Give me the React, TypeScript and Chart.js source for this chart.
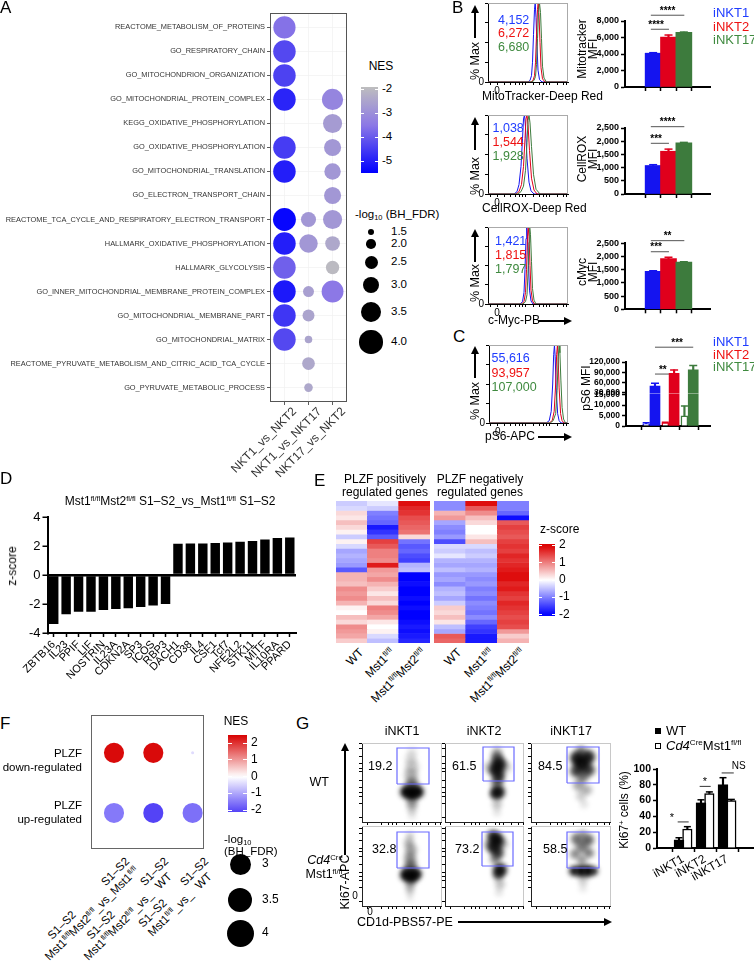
import React, { useEffect, useRef } from 'react';
import { Chart, registerables } from 'chart.js';

Chart.register(...registerables);

const FONT = '"Liberation Sans", Arial, Helvetica, sans-serif';
Chart.defaults.font.family = FONT;
Chart.defaults.font.size = 12;
Chart.defaults.color = '#000';

/* =================== DATA =================== */
// Panel A – GSEA dot plot
const A_PATHWAYS = [
  'REACTOME_METABOLISM_OF_PROTEINS', 'GO_RESPIRATORY_CHAIN', 'GO_MITOCHONDRION_ORGANIZATION',
  'GO_MITOCHONDRIAL_PROTEIN_COMPLEX', 'KEGG_OXIDATIVE_PHOSPHORYLATION', 'GO_OXIDATIVE_PHOSPHORYLATION',
  'GO_MITOCHONDRIAL_TRANSLATION', 'GO_ELECTRON_TRANSPORT_CHAIN',
  'REACTOME_TCA_CYCLE_AND_RESPIRATORY_ELECTRON_TRANSPORT', 'HALLMARK_OXIDATIVE_PHOSPHORYLATION',
  'HALLMARK_GLYCOLYSIS', 'GO_INNER_MITOCHONDRIAL_MEMBRANE_PROTEIN_COMPLEX', 'GO_MITOCHONDRIAL_MEMBRANE_PART',
  'GO_MITOCHONDRIAL_MATRIX', 'REACTOME_PYRUVATE_METABOLISM_AND_CITRIC_ACID_TCA_CYCLE', 'GO_PYRUVATE_METABOLIC_PROCESS',
];
const A_COMPARISONS = ['NKT1_vs_NKT2', 'NKT1_vs_NKT17', 'NKT17_vs_NKT2'];
const A_NES_NKT1_NKT2 = [-3.6, -4.3, -4.4, -4.9, null, -4.5, -5.0, null, -5.4, -5.0, -3.9, -5.1, -4.6, -4.3, null, null];
const A_FDR_NKT1_NKT2 = [3.85, 3.9, 3.9, 3.9, null, 3.9, 3.9, null, 3.95, 3.9, 3.9, 3.9, 3.9, 3.9, null, null];
const A_NES_NKT1_NKT17 = [null, null, null, null, null, null, null, null, -2.8, -2.8, null, -2.6, -2.5, -2.5, -2.4, -2.4];
const A_FDR_NKT1_NKT17 = [null, null, null, null, null, null, null, null, 2.8, 3.3, null, 2.2, 2.35, 1.7, 2.45, 1.85];
const A_NES_NKT17_NKT2 = [null, null, null, -3.2, -2.7, -2.8, -2.8, -2.8, -2.8, -2.4, -2.0, -3.5, null, null, null, null];
const A_FDR_NKT17_NKT2 = [null, null, null, 3.7, 3.4, 3.1, 3.0, 3.1, 3.4, 2.75, 2.55, 3.8, null, null, null, null];
const A_NES_TICKS = [-2, -3, -4, -5];
const A_SIZE_BREAKS = [1.5, 2.0, 2.5, 3.0, 3.5, 4.0];

// Panel B / C – flow MFI
const B_GROUPS = ['iNKT1', 'iNKT2', 'iNKT17'];
const B_COLORS = ['#1414f0', '#e0001c', '#3d7b3d'];
const B_TEXT_COLORS = ['#1f3cff', '#ee1111', '#3f8a3f'];
const B_MITO_MEAN = [4100, 6050, 6620];
const B_MITO_SEM = [60, 250, 40];
const B_CELLROX_MEAN = [1080, 1620, 1940];
const B_CELLROX_SEM = [30, 80, 15];
const B_CMYC_MEAN = [1440, 1920, 1790];
const B_CMYC_SEM = [20, 50, 10];
const B_MITO_MFI = ['4,152', '6,272', '6,680'];
const B_CELLROX_MFI = ['1,038', '1,544', '1,928'];
const B_CMYC_MFI = ['1,421', '1,815', '1,797'];
const B_MITO_TICKS = [0, 2000, 4000, 6000, 8000];
const B_SMALL_TICKS = [0, 500, 1000, 1500, 2000, 2500];
const B_MITO_SIG: [number, number, number, string][] = [[1, 3, 8700, '****'], [1, 2, 7000, '****']];
const B_CELLROX_SIG: [number, number, number, string][] = [[1, 3, 2550, '****'], [1, 2, 1920, '***']];
const B_CMYC_SIG: [number, number, number, string][] = [[1, 3, 2600, '**'], [1, 2, 2180, '***']];

const C_CTRL_MEAN = [1000, 1500, 4800];
const C_CTRL_SEM = [500, 300, 4700];
const C_PS6_MEAN = [50000, 87000, 97000];
const C_PS6_SEM = [8000, 10000, 13000];
const C_PS6_MFI = ['55,616', '93,957', '107,000'];
const C_UPPER_TICKS = [30000, 60000, 90000, 120000];
const C_LOWER_TICKS = [0, 5000, 10000, 15000];
const C_SIG: [number, number, number, string][] = [[1, 3, 163000, '***'], [1, 2, 85000, '**']];

// histograms (x = channel position, y = % of max)
const H_MITO_BLUE_X = [0, 40, 42, 43.5, 44.5, 45.5, 46.5, 47.2, 48, 49, 50, 51.5, 54, 80];
const H_MITO_BLUE_Y = [0, 0, 2, 8, 25, 60, 92, 100, 82, 45, 15, 3, 0, 0];
const H_MITO_RED_X = [0, 43, 45, 46.5, 47.5, 48.5, 49.5, 50.2, 51, 52, 53, 54.5, 57, 80];
const H_MITO_RED_Y = [0, 0, 2, 8, 25, 60, 92, 100, 85, 50, 18, 4, 0, 0];
const H_MITO_GREEN_X = [0, 44, 46, 47.5, 48.5, 49.5, 50.5, 51.5, 52.5, 53.5, 54.5, 56, 58.5, 80];
const H_MITO_GREEN_Y = [0, 0, 2, 7, 22, 55, 88, 100, 88, 55, 20, 5, 0, 0];
const H_ROX_BLUE_X = [0, 26, 29, 31, 33, 34.5, 35.5, 36.5, 37.5, 39, 41, 43, 46, 80];
const H_ROX_BLUE_Y = [0, 0, 3, 12, 35, 70, 95, 100, 85, 45, 15, 4, 0, 0];
const H_ROX_RED_X = [0, 28, 31, 33.5, 35.5, 37, 38, 39, 40, 41.5, 43.5, 46, 49, 80];
const H_ROX_RED_Y = [0, 0, 3, 12, 35, 70, 95, 100, 88, 55, 20, 5, 0, 0];
const H_ROX_GREEN_X = [0, 30, 33, 35.5, 37.5, 39, 40, 41, 42, 43.5, 45.5, 48, 52, 80];
const H_ROX_GREEN_Y = [0, 0, 3, 10, 30, 65, 93, 100, 90, 60, 25, 6, 0, 0];
const H_MYC_BLUE_X = [0, 32, 34.5, 36, 37, 38, 38.7, 39.5, 40.5, 41.5, 43, 45, 80];
const H_MYC_BLUE_Y = [0, 0, 3, 15, 45, 85, 100, 88, 50, 18, 4, 0, 0];
const H_MYC_RED_X = [0, 33.5, 36, 37.5, 38.5, 39.5, 40.2, 41, 42, 43, 44.5, 46.5, 80];
const H_MYC_RED_Y = [0, 0, 3, 15, 45, 85, 100, 88, 50, 18, 4, 0, 0];
const H_MYC_GREEN_X = [0, 35, 37.5, 39, 40, 41, 41.7, 42.5, 43.5, 44.5, 46, 48, 80];
const H_MYC_GREEN_Y = [0, 0, 3, 12, 40, 80, 100, 90, 55, 20, 5, 0, 0];
const H_PS6_BLUE_X = [0, 58, 61, 63, 64.5, 65.5, 66.3, 67, 68, 69.5, 71, 73, 80];
const H_PS6_BLUE_Y = [0, 0, 3, 15, 50, 88, 100, 85, 45, 12, 3, 0, 0];
const H_PS6_RED_X = [0, 61, 64, 66, 67.5, 68.5, 69.3, 70, 71, 72.5, 74, 76, 80];
const H_PS6_RED_Y = [0, 0, 3, 15, 50, 88, 100, 85, 45, 12, 3, 0, 0];
const H_PS6_GREEN_X = [0, 62, 65, 67.5, 69, 70, 71, 71.8, 72.8, 74, 75.5, 77.5, 80];
const H_PS6_GREEN_Y = [0, 0, 3, 12, 42, 82, 100, 90, 55, 20, 5, 0, 0];
const HIST_TICKS = [2, 9, 16, 22, 27, 31, 34, 37, 45, 51, 55, 58, 61, 69, 75, 78];

// Panel D – z-scores
const D_GENES = ['ZBTB16', 'IL23', 'PPIF', 'LIF', 'NOSTRIN', 'IL23A', 'CDKN2A', 'SP3', 'ICOS', 'RBP3',
  'DACH1', 'CD38', 'IL4', 'CSF1', 'Tcf7', 'NFE2L2', 'STK11', 'MITF', 'IL10RA', 'PPARD'];
const D_ZSCORE = [-3.38, -2.71, -2.53, -2.53, -2.41, -2.35, -2.3, -2.21, -2.1, -2.0,
  2.15, 2.17, 2.18, 2.2, 2.25, 2.3, 2.35, 2.45, 2.55, 2.58];
const D_TICKS = [-4, -2, 0, 2, 4];

// Panel E – heatmap z-scores (rows top to bottom)
const E_SAMPLES = ['WT', 'Mst1', 'Mst1Mst2'];
const E_POS_WT = [-0.4, -0.3, 0.3, 0.2, 0.5, 0.3, 0.1, -0.4, 0.1, -0.3, -0.7, -0.6, -0.7, -0.8, -1.3, 0.6, 0.6, 0.5, 0.9, 0.8, 0.9, 0.6, 0.1, 0.0, 0.5, 0.3, 0.9, 0.8, 0.7, 0.4];
const E_POS_MST1 = [-0.2, -0.4, -1.0, -1.1, -1.2, -1.8, -1.6, -1.3, 1.5, 1.3, 1.0, 1.0, 0.9, 1.8, 0.8, 0.7, 0.9, 0.6, 0.4, 0.2, 0.5, 0.3, 1.0, 0.9, 0.7, 0.2, 0.0, 0.1, -0.3, -0.5];
const E_POS_MST12 = [1.9, 1.7, 1.6, 1.4, 1.3, 1.2, 1.1, 0.3, -1.1, -1.3, -1.2, -1.4, -1.5, -0.6, -0.5, -2.0, -2.0, -1.9, -2.0, -2.0, -1.9, -2.0, -1.9, -2.0, -2.0, -1.9, -1.8, -1.9, -1.8, -1.7];
const E_NEG_WT = [-0.9, -0.9, 0.6, 0.8, -0.7, -0.9, -1.0, -0.8, -1.4, -0.3, -0.4, -0.2, -0.6, -0.7, -0.5, -0.8, -0.7, -0.9, -0.6, -0.5, -0.7, -0.4, 0.4, 0.3, 0.5, 0.2, -0.5, -0.7, 1.3, 1.2];
const E_NEG_MST1 = [1.9, 1.3, 0.9, 0.5, 0.3, 0.0, 0.0, 0.2, 0.5, -0.3, -0.5, -0.4, -0.6, -0.7, -0.6, -0.8, -0.9, -0.8, -1.0, -0.9, -1.1, -0.9, -1.0, -1.1, -0.9, -1.2, -1.5, -1.6, -1.8, -1.8];
const E_NEG_MST12 = [-1.0, -1.0, -1.2, -1.9, 1.3, 1.5, 1.4, 1.3, 1.5, 1.6, 1.5, 1.7, 1.6, 1.7, 1.8, 1.9, 1.9, 1.7, 1.8, 1.6, 1.5, 1.7, 1.6, 1.5, 1.4, 1.5, 1.4, 0.8, 0.4, 0.6];
const E_TICKS = [2, 1, 0, -1, -2];

// Panel F – GSEA of PLZF gene sets
const F_NES_DOWN = [2.4, 2.4, -0.4];
const F_FDR_DOWN = [2.85, 2.85, 0.0];
const F_NES_UP = [-1.5, -2.1, -1.6];
const F_FDR_UP = [2.85, 2.85, 2.85];
const F_NES_TICKS = [2, 1, 0, -1, -2];
const F_SIZE_BREAKS = [3, 3.5, 4];

// Panel G – Ki67
const G_GROUPS = ['iNKT1', 'iNKT2', 'iNKT17'];
const G_WT_MEAN = [10, 57, 80];
const G_WT_SEM = [3, 4, 9];
const G_KO_MEAN = [24, 69, 60];
const G_KO_SEM = [3, 2, 1.5];
const G_WT_GATE_PCT = ['19.2', '61.5', '84.5'];
const G_KO_GATE_PCT = ['32.8', '73.2', '58.5'];
const G_SIG: [number, number, number, string][] = [[0.75, 1.25, 33, '*'], [1.75, 2.25, 78, '*'], [2.75, 3.3, 95, 'NS']];
// density clouds [x, y, radius, density]
const G_WT1_CLOUD = [[44, 30, 6, .9], [50, 29, 7, .95], [56, 30, 6, .9], [50, 33, 8, .5], [50, 40, 6, .35], [49, 47, 7, .25], [50, 55, 7, .2], [49, 63, 6, .15], [50, 70, 5, .1], [50, 21, 6, .4], [50, 14, 5, .25], [50, 7, 4, .12]];
const G_WT2_CLOUD = [[52, 64, 6, .6], [54, 58, 7, .85], [51, 52, 7, .85], [54, 46, 6, .75], [52, 40, 6, .55], [53, 30, 7, .9], [50, 28, 5, .6], [45, 55, 6, .25], [60, 55, 6, .25], [52, 70, 5, .3], [52, 18, 5, .25], [52, 10, 4, .12]];
const G_WT17_CLOUD = [[46, 64, 7, .85], [57, 65, 7, .85], [51, 58, 8, .9], [45, 51, 6, .7], [58, 52, 6, .7], [52, 46, 6, .55], [50, 71, 5, .5], [48, 37, 6, .35], [56, 32, 5, .3], [50, 26, 5, .2], [53, 18, 4, .12]];
const G_KO1_CLOUD = [[44, 31, 6, .9], [50, 30, 7, .95], [55, 32, 5, .8], [48, 34, 8, .45], [49, 41, 6, .45], [48, 48, 6, .4], [49, 56, 6, .35], [47, 63, 5, .3], [48, 70, 4, .2], [48, 22, 5, .4], [48, 15, 4, .25], [48, 8, 3, .12]];
const G_KO2_CLOUD = [[48, 70, 6, .75], [52, 66, 7, .9], [49, 59, 7, .85], [53, 53, 6, .7], [50, 47, 5, .45], [55, 36, 7, .9], [53, 31, 5, .6], [44, 62, 5, .3], [58, 62, 5, .3], [55, 22, 5, .25], [54, 14, 4, .12]];
const G_KO17_CLOUD = [[43, 35, 5, .9], [50, 35, 6, .95], [57, 35, 6, .95], [63, 35, 4, .8], [46, 67, 6, .55], [57, 66, 6, .6], [51, 59, 6, .5], [44, 52, 5, .45], [58, 53, 5, .5], [51, 46, 5, .4], [52, 72, 4, .35], [52, 26, 5, .2], [52, 18, 4, .1]];
// gates [x0, x1, y0, y1]
const G_WT1_GATE = [35, 67, 38, 74];
const G_WT2_GATE = [38, 69, 41, 75];
const G_WT17_GATE = [36, 68, 39, 75];
const G_KO1_GATE = [35, 67, 38, 74];
const G_KO2_GATE = [37, 68, 40, 74];
const G_KO17_GATE = [36, 68, 38, 74];
const G_DENS_TICKS = [5, 19, 26, 30, 34, 42, 50, 54, 58, 66, 73, 78];

/* =================== HELPERS =================== */
type Rect = { l: number; t: number; r: number; b: number };
const rgb = (c: number[]) => `rgb(${c[0]},${c[1]},${c[2]})`;
function gradientColor(stops: [number, number[]][], v: number) {
  if (v <= stops[0][0]) return rgb(stops[0][1]);
  for (let i = 1; i < stops.length; i++) {
    if (v <= stops[i][0]) {
      const t = (v - stops[i - 1][0]) / (stops[i][0] - stops[i - 1][0]);
      const a = stops[i - 1][1], b = stops[i][1];
      return rgb(a.map((x, k) => Math.round(x + (b[k] - x) * t)));
    }
  }
  return rgb(stops[stops.length - 1][1]);
}
function gradCss(stops: [number, number[]][], top: number, bottom: number) {
  const parts: string[] = [];
  for (let i = 0; i <= 20; i++) {
    const v = top + (bottom - top) * (i / 20);
    parts.push(`${gradientColor(stops, v)} ${i * 5}%`);
  }
  return `linear-gradient(to bottom, ${parts.join(', ')})`;
}
const A_STOPS: [number, number[]][] = [[-5.5, [0, 0, 255]], [-3.5, [140, 120, 230]], [-1.9, [190, 190, 190]]];
const E_STOPS: [number, number[]][] = [[-2, [0, 0, 255]], [0, [255, 255, 255]], [2, [220, 0, 0]]];
const F_STOPS: [number, number[]][] = [[-2.4, [60, 40, 245]], [0, [255, 255, 255]], [2.5, [215, 0, 0]]];
const aRadius = (v: number) => 3.4 * v - 2;
const fRadius = (v: number) => 1.5 + 3 * v;

const fixAxis = (size: number) => (s: any) => {
  if (s.isHorizontal()) s.height = size; else s.width = size;
  s.paddingLeft = 0; s.paddingRight = 0; s.paddingTop = 0; s.paddingBottom = 0;
};
const setTicks = (vals: number[]) => (s: any) => { s.ticks = vals.map((v) => ({ value: v })); };

function baseOptions(canvas: Rect, plot: Rect, hidden = false) {
  return {
    responsive: false,
    maintainAspectRatio: false,
    animation: false,
    devicePixelRatio: 1,
    events: [],
    layout: {
      autoPadding: false,
      padding: hidden
        ? { left: plot.l - canvas.l, top: plot.t - canvas.t, right: canvas.r - plot.r, bottom: canvas.b - plot.b }
        : { left: 0, top: plot.t - canvas.t, right: canvas.r - plot.r, bottom: 0 },
    },
    plugins: { legend: { display: false }, tooltip: { enabled: false }, title: { display: false } },
  };
}
function framePlugin(color: string, sides: string, width = 1) {
  return {
    id: 'frame',
    afterDatasetsDraw(chart: any) {
      const { ctx, chartArea: a } = chart;
      const h = width / 2;
      ctx.save();
      ctx.strokeStyle = color;
      ctx.lineWidth = width;
      ctx.beginPath();
      if (sides.includes('t')) { ctx.moveTo(a.left, a.top + h); ctx.lineTo(a.right, a.top + h); }
      if (sides.includes('b')) { ctx.moveTo(a.left, a.bottom - h); ctx.lineTo(a.right, a.bottom - h); }
      if (sides.includes('l')) { ctx.moveTo(a.left + h, a.top); ctx.lineTo(a.left + h, a.bottom); }
      if (sides.includes('r')) { ctx.moveTo(a.right - h, a.top); ctx.lineTo(a.right - h, a.bottom); }
      ctx.stroke();
      ctx.restore();
    },
  };
}
function blurPlugin(px: number, index: number) {
  return {
    id: 'blur',
    beforeDatasetDraw(chart: any, args: any) { if (args.index === index) { chart.ctx.save(); chart.ctx.filter = `blur(${px}px)`; } },
    afterDatasetDraw(chart: any, args: any) { if (args.index === index) chart.ctx.restore(); },
  };
}
const tickGrid = (len = 4, w = 1.5) => ({ drawOnChartArea: false, drawTicks: true, tickLength: len, tickWidth: w, tickColor: '#000' });

function ChartBox({ canvas, make }: { canvas: Rect; make: () => any }) {
  const ref = useRef<HTMLCanvasElement | null>(null);
  useEffect(() => {
    if (!ref.current) return;
    const chart = new Chart(ref.current, make());
    return () => chart.destroy();
  }, []);
  const w = canvas.r - canvas.l, h = canvas.b - canvas.t;
  return <canvas ref={ref} width={w} height={h} style={{ position: 'absolute', left: canvas.l, top: canvas.t, width: w, height: h }} />;
}

type TP = { x: number; y: number; s?: number; c?: string; a?: 'l' | 'c' | 'r'; rot?: number; w?: any; it?: boolean; lh?: number; children: React.ReactNode };
function Txt({ x, y, s = 12, c = '#000', a = 'l', rot = 0, w = 400, it = false, lh = 1.15, children }: TP) {
  const tx = a === 'l' ? '0%' : a === 'c' ? '-50%' : '-100%';
  return (
    <div style={{
      position: 'absolute', left: x, top: y, transform: `translate(${tx},-50%)${rot ? ` rotate(${rot}deg)` : ''}`,
      fontSize: s, color: c, fontWeight: w, fontStyle: it ? 'italic' : 'normal', whiteSpace: 'nowrap', lineHeight: lh,
      textAlign: a === 'l' ? 'left' : a === 'c' ? 'center' : 'right',
    }}>{children}</div>
  );
}
const Sup = ({ children }: { children: React.ReactNode }) => <span style={{ fontSize: '0.62em', verticalAlign: '0.55em', lineHeight: 0 }}>{children}</span>;
const Sub = ({ children }: { children: React.ReactNode }) => <span style={{ fontSize: '0.65em', verticalAlign: '-0.25em', lineHeight: 0 }}>{children}</span>;
const FL = () => <Sup>fl/fl</Sup>;

function RotLabel({ x, y, s = 12, deg = 45, c = '#000', children }: { x: number; y: number; s?: number; deg?: number; c?: string; children: React.ReactNode }) {
  return (
    <div style={{ position: 'absolute', left: x, top: y, transform: `translate(-100%,0) rotate(-${deg}deg)`, transformOrigin: '100% 0', fontSize: s, color: c, whiteSpace: 'nowrap', lineHeight: 1.1, textAlign: 'right' }}>{children}</div>
  );
}
function VArrow({ x, y1, y2 }: { x: number; y1: number; y2: number }) {
  return (
    <>
      <div style={{ position: 'absolute', left: x - 0.75, top: y1 + 6, width: 1.5, height: y2 - y1 - 6, background: '#000' }} />
      <div style={{ position: 'absolute', left: x - 4, top: y1, width: 0, height: 0, borderLeft: '4px solid transparent', borderRight: '4px solid transparent', borderBottom: '8px solid #000' }} />
    </>
  );
}
function HArrow({ y, x1, x2 }: { y: number; x1: number; x2: number }) {
  return (
    <>
      <div style={{ position: 'absolute', left: x1, top: y - 0.75, width: x2 - x1 - 6, height: 1.5, background: '#000' }} />
      <div style={{ position: 'absolute', left: x2 - 8, top: y - 4, width: 0, height: 0, borderTop: '4px solid transparent', borderBottom: '4px solid transparent', borderLeft: '8px solid #000' }} />
    </>
  );
}

/* =================== PANEL A =================== */
const A_CANVAS: Rect = { l: 0, t: 0, r: 352, b: 485 };
const A_PLOT: Rect = { l: 270, t: 13, r: 347, b: 402 };
const A_XMIN = 0.4, A_XMAX = 3.6, A_YMIN = 0.4, A_YMAX = 16.6;
function configA() {
  const cols: any[] = [[A_NES_NKT1_NKT2, A_FDR_NKT1_NKT2], [A_NES_NKT1_NKT17, A_FDR_NKT1_NKT17], [A_NES_NKT17_NKT2, A_FDR_NKT17_NKT2]];
  const datasets = cols.map(([nes, fdr]: any[], ci: number) => {
    const data: any[] = [];
    const bg: string[] = [];
    nes.forEach((v: any, ri: number) => {
      if (v != null) { data.push({ x: ci + 1, y: ri + 1, r: aRadius(fdr[ri]) }); bg.push(gradientColor(A_STOPS, v)); }
    });
    return { data, backgroundColor: bg, borderWidth: 0 };
  });
  const grid = { color: '#f0f0f0', lineWidth: 0.7, tickLength: 3, tickColor: '#333', tickWidth: 0.8 };
  return {
    type: 'bubble',
    data: { datasets },
    options: {
      ...baseOptions(A_CANVAS, A_PLOT),
      scales: {
        x: {
          type: 'linear', min: A_XMIN, max: A_XMAX, afterBuildTicks: setTicks([1, 2, 3]), afterFit: fixAxis(A_CANVAS.b - A_PLOT.b), grid, border: { display: false },
          ticks: { display: false },
        },
        y: {
          type: 'linear', reverse: true, min: A_YMIN, max: A_YMAX, afterBuildTicks: setTicks(A_PATHWAYS.map((_, i) => i + 1)), afterFit: fixAxis(A_PLOT.l - A_CANVAS.l), grid, border: { display: false },
          ticks: { display: false },
        },
      },
    },
    plugins: [framePlugin('#555', 'tblr', 1)],
  };
}

/* =================== PANEL B =================== */
const B_XMIN = 0.09, B_XMAX = 3.78;
function configBar3(canvas: Rect, plot: Rect, mean: number[], sem: number[], ticks: number[], sig: [number, number, number, string][]) {
  const xs = B_GROUPS.map((_, i) => i + 1);
  return {
    type: 'bar',
    data: {
      datasets: [
        { type: 'bar', data: xs.map((x, i) => ({ x, y: mean[i] })), backgroundColor: B_COLORS, barThickness: 16, grouped: false, borderWidth: 0 },
        { type: 'bar', data: xs.map((x, i) => ({ x, y: [mean[i], mean[i] + sem[i]] })), backgroundColor: B_COLORS, barThickness: 1.5, grouped: false, borderWidth: 0 },
        { type: 'scatter', data: xs.map((x, i) => ({ x, y: mean[i] + sem[i] })), pointStyle: 'line', pointRadius: 4, pointBorderColor: B_COLORS, pointBorderWidth: 1.5 },
        ...sig.map((s) => ({ type: 'line', data: [{ x: s[0] - 0.15, y: s[2] }, { x: s[1] + 0.03, y: s[2] }], borderColor: '#555', borderWidth: 1, pointRadius: 0, clip: false })),
      ],
    },
    options: {
      ...baseOptions(canvas, plot),
      scales: {
        x: { type: 'linear', min: B_XMIN, max: B_XMAX, afterBuildTicks: setTicks(xs), afterFit: fixAxis(canvas.b - plot.b), ticks: { display: false }, grid: tickGrid(4, 1.5), border: { color: '#000', width: 2 } },
        y: {
          type: 'linear', min: 0, max: ticks[ticks.length - 1], afterBuildTicks: setTicks(ticks), afterFit: fixAxis(plot.l - canvas.l),
          ticks: { autoSkip: false, padding: 2, font: { size: 9, weight: 'bold' }, color: '#000' }, grid: tickGrid(4, 1.5), border: { color: '#000', width: 2 },
        },
      },
    },
  };
}
function sigTexts(plot: Rect, xmin: number, xmax: number, ymax: number, sig: [number, number, number, string][], off = [-0.15, 0.03]) {
  return sig.map((s, i) => {
    const cx = plot.l + (((s[0] + off[0] + s[1] + off[1]) / 2 - xmin) / (xmax - xmin)) * (plot.r - plot.l);
    const cy = plot.b - (s[2] / ymax) * (plot.b - plot.t);
    return <Txt key={i} x={cx} y={cy - 4.5} a="c" s={10} w="bold">{s[3]}</Txt>;
  });
}

function configHist(canvas: Rect, plot: Rect, curves: [number[], number[], string][]) {
  return {
    type: 'line',
    data: {
      datasets: curves.map(([xs, ys, col]) => ({ data: xs.map((x, i) => ({ x, y: ys[i] })), borderColor: col, borderWidth: 1, pointRadius: 0, tension: 0, fill: false })),
    },
    options: {
      ...baseOptions(canvas, plot),
      scales: {
        x: {
          type: 'linear', min: 0, max: 80, afterBuildTicks: setTicks(HIST_TICKS), afterFit: fixAxis(canvas.b - plot.b),
          ticks: { autoSkip: false, maxRotation: 0, padding: 0, font: { size: 10 }, callback: (v: number) => (v === 9 ? '0' : '') }, grid: tickGrid(3, 1), border: { color: '#000', width: 1 },
        },
        y: {
          type: 'linear', min: 0, max: 100, afterBuildTicks: setTicks([0, 25, 50, 75, 100]), afterFit: fixAxis(plot.l - canvas.l),
          ticks: { autoSkip: false, padding: 1, font: { size: 10 }, callback: (v: number) => (v === 0 ? '0' : '') }, grid: tickGrid(3, 1), border: { color: '#000', width: 1 },
        },
      },
    },
    plugins: [framePlugin('#aaa', 'tr', 1)],
  };
}
const HB1_CANVAS: Rect = { l: 470, t: 0, r: 572, b: 95 }, HB1_PLOT: Rect = { l: 488, t: 3, r: 568, b: 82 };
const HB2_CANVAS: Rect = { l: 470, t: 110, r: 572, b: 207 }, HB2_PLOT: Rect = { l: 488, t: 115, r: 568, b: 194 };
const HB3_CANVAS: Rect = { l: 470, t: 222, r: 572, b: 317 }, HB3_PLOT: Rect = { l: 488, t: 227, r: 568, b: 304 };
const HC_CANVAS: Rect = { l: 470, t: 340, r: 572, b: 436 }, HC_PLOT: Rect = { l: 489, t: 345, r: 568, b: 423 };
const BB1_CANVAS: Rect = { l: 560, t: 0, r: 712, b: 100 }, BB1_PLOT: Rect = { l: 625, t: 21, r: 710, b: 87 };
const BB2_CANVAS: Rect = { l: 560, t: 100, r: 712, b: 205 }, BB2_PLOT: Rect = { l: 625, t: 128, r: 710, b: 194 };
const BB3_CANVAS: Rect = { l: 560, t: 215, r: 712, b: 320 }, BB3_PLOT: Rect = { l: 625, t: 243.3, r: 710, b: 309.3 };

/* =================== PANEL C bar (broken axis) =================== */
const C_CANVAS: Rect = { l: 565, t: 335, r: 712, b: 440 };
const C_PLOT: Rect = { l: 626, t: 362, r: 710, b: 426 };
const C_XMIN = 0.446, C_XMAX = 3.375;
const C_UP_MIN = 28500, C_UP_MAX = 120000, C_LO_MAX = 15500;
function configC() {
  const g = [1, 2, 3];
  const ox = g.map((v) => v - 0.23), fx = g.map((v) => v + 0.23);
  const yTicks = { autoSkip: false, padding: 2, font: { size: 8.5, weight: 'bold' }, color: '#000' };
  return {
    type: 'bar',
    data: {
      datasets: [
        { type: 'bar', yAxisID: 'yL', data: ox.map((x, i) => ({ x, y: C_CTRL_MEAN[i] })), backgroundColor: '#fff', borderColor: B_COLORS, borderWidth: 1.5, barThickness: 7, grouped: false },
        { type: 'bar', yAxisID: 'yL', data: fx.map((x, i) => ({ x, y: Math.min(C_PS6_MEAN[i], C_LO_MAX) })), backgroundColor: B_COLORS, barThickness: 10, grouped: false, borderWidth: 0 },
        { type: 'bar', yAxisID: 'yU', data: fx.map((x, i) => ({ x, y: [C_UP_MIN, C_PS6_MEAN[i]] })), backgroundColor: B_COLORS, barThickness: 10, grouped: false, borderWidth: 0 },
        { type: 'bar', yAxisID: 'yL', data: ox.map((x, i) => ({ x, y: [C_CTRL_MEAN[i], C_CTRL_MEAN[i] + C_CTRL_SEM[i]] })), backgroundColor: B_COLORS, barThickness: 1.5, grouped: false, borderWidth: 0 },
        { type: 'bar', yAxisID: 'yU', data: fx.map((x, i) => ({ x, y: [C_PS6_MEAN[i], C_PS6_MEAN[i] + C_PS6_SEM[i]] })), backgroundColor: B_COLORS, barThickness: 1.5, grouped: false, borderWidth: 0 },
        { type: 'scatter', yAxisID: 'yL', data: ox.map((x, i) => ({ x, y: C_CTRL_MEAN[i] + C_CTRL_SEM[i] })), pointStyle: 'line', pointRadius: 3.5, pointBorderColor: B_COLORS, pointBorderWidth: 1.5 },
        { type: 'scatter', yAxisID: 'yU', data: fx.map((x, i) => ({ x, y: C_PS6_MEAN[i] + C_PS6_SEM[i] })), pointStyle: 'line', pointRadius: 4, pointBorderColor: B_COLORS, pointBorderWidth: 1.5 },
        ...C_SIG.map((s) => ({ type: 'line', yAxisID: 'yU', data: [{ x: s[0] + 0.23, y: s[2] }, { x: s[1] + 0.23, y: s[2] }], borderColor: '#555', borderWidth: 1, pointRadius: 0, clip: false })),
      ],
    },
    options: {
      ...baseOptions(C_CANVAS, C_PLOT),
      scales: {
        x: { type: 'linear', min: C_XMIN, max: C_XMAX, afterBuildTicks: setTicks(g), afterFit: fixAxis(C_CANVAS.b - C_PLOT.b), ticks: { display: false }, grid: tickGrid(4, 1.5), border: { color: '#000', width: 2 } },
        yU: {
          type: 'linear', position: 'left', stack: 'ps6', stackWeight: 31.5, weight: 2, min: C_UP_MIN, max: C_UP_MAX, afterBuildTicks: setTicks(C_UPPER_TICKS), afterFit: fixAxis(C_PLOT.l - C_CANVAS.l),
          ticks: yTicks, grid: tickGrid(4, 1.5), border: { color: '#000', width: 2 },
        },
        yL: {
          type: 'linear', position: 'left', stack: 'ps6', stackWeight: 32.5, weight: 1, min: 0, max: C_LO_MAX, afterBuildTicks: setTicks(C_LOWER_TICKS), afterFit: fixAxis(C_PLOT.l - C_CANVAS.l),
          ticks: yTicks, grid: tickGrid(4, 1.5), border: { color: '#000', width: 2 },
        },
      },
    },
  };
}

/* =================== PANEL D =================== */
const D_CANVAS: Rect = { l: 0, t: 505, r: 300, b: 712 };
const D_PLOT: Rect = { l: 47.5, t: 517, r: 296, b: 633 };
function configD() {
  return {
    type: 'bar',
    data: { labels: D_GENES, datasets: [{ data: D_ZSCORE, backgroundColor: '#000', barPercentage: 0.76, categoryPercentage: 1, borderWidth: 0 }] },
    options: {
      ...baseOptions(D_CANVAS, D_PLOT),
      scales: {
        x: {
          type: 'category', offset: true, afterFit: fixAxis(D_CANVAS.b - D_PLOT.b),
          ticks: { autoSkip: false, minRotation: 45, maxRotation: 45, padding: 1, font: { size: 11 }, color: '#000' },
          grid: { ...tickGrid(4, 1.5), offset: false }, border: { color: '#000', width: 2 },
        },
        y: {
          type: 'linear', min: -4, max: 4, afterBuildTicks: setTicks(D_TICKS), afterFit: fixAxis(D_PLOT.l - D_CANVAS.l),
          ticks: { padding: 2, font: { size: 13 }, color: '#000' },
          grid: { drawOnChartArea: true, color: (c: any) => (c.tick && c.tick.value === 0 ? '#000' : 'rgba(0,0,0,0)'), lineWidth: 2.5, tickLength: 5, tickColor: '#000', tickWidth: 1.5 },
          border: { color: '#000', width: 2 },
        },
      },
    },
  };
}

/* =================== PANEL E =================== */
const E_LEFT_CANVAS: Rect = { l: 336, t: 501, r: 430, b: 643 };
const E_RIGHT_CANVAS: Rect = { l: 434, t: 501, r: 529, b: 643 };
function configHeat(canvas: Rect, cols: number[][]) {
  const n = cols[0].length;
  const datasets = cols[0].map((_, ri) => ({
    data: cols.map(() => 1),
    backgroundColor: cols.map((col) => gradientColor(E_STOPS, col[ri])),
    borderWidth: 0, barPercentage: 1, categoryPercentage: 1,
  }));
  return {
    type: 'bar',
    data: { labels: E_SAMPLES, datasets },
    options: {
      ...baseOptions(canvas, canvas, true),
      scales: {
        x: { type: 'category', stacked: true, display: false },
        y: { type: 'linear', stacked: true, min: 0, max: n, reverse: true, display: false },
      },
    },
  };
}

/* =================== PANEL F =================== */
const F_CANVAS: Rect = { l: 86, t: 710, r: 209, b: 854 };
const F_PLOT: Rect = { l: 91, t: 715, r: 204, b: 849 };
function configF() {
  const rows: [number[], number[]][] = [[F_NES_DOWN, F_FDR_DOWN], [F_NES_UP, F_FDR_UP]];
  return {
    type: 'bubble',
    data: {
      datasets: rows.map(([nes, fdr], ri) => ({
        data: nes.map((_, ci) => ({ x: ci + 1, y: ri + 1, r: fRadius(fdr[ci]) })),
        backgroundColor: nes.map((v) => gradientColor(F_STOPS, v)), borderWidth: 0,
      })),
    },
    options: {
      ...baseOptions(F_CANVAS, F_PLOT, true),
      scales: {
        x: { type: 'linear', min: 0.415, max: 3.29, display: false },
        y: { type: 'linear', min: 0.37, max: 2.6, reverse: true, display: false },
      },
    },
    plugins: [framePlugin('#666', 'tblr', 1)],
  };
}

/* =================== PANEL G =================== */
const G_PLOTS: Rect[] = [
  { l: 362, t: 743, r: 442, b: 822 }, { l: 445, t: 743, r: 524, b: 822 }, { l: 531, t: 743, r: 611, b: 822 },
  { l: 362, t: 826, r: 442, b: 906 }, { l: 445, t: 826, r: 524, b: 906 }, { l: 531, t: 826, r: 611, b: 906 },
];
const G_CLOUDS = [G_WT1_CLOUD, G_WT2_CLOUD, G_WT17_CLOUD, G_KO1_CLOUD, G_KO2_CLOUD, G_KO17_CLOUD];
const G_GATES = [G_WT1_GATE, G_WT2_GATE, G_WT17_GATE, G_KO1_GATE, G_KO2_GATE, G_KO17_GATE];
const gCanvas = (p: Rect): Rect => ({ l: p.l - 4, t: p.t, r: p.r, b: p.b + 4 });
function configDensity(i: number) {
  const p = G_PLOTS[i], c = gCanvas(p);
  const cloud = G_CLOUDS[i], gate = G_GATES[i];
  return {
    type: 'bubble',
    data: {
      datasets: [
        {
          type: 'scatter', showLine: true, borderColor: '#6b6bff', borderWidth: 1.2, pointRadius: 0, fill: false,
          data: [{ x: gate[0], y: gate[2] }, { x: gate[1], y: gate[2] }, { x: gate[1], y: gate[3] }, { x: gate[0], y: gate[3] }, { x: gate[0], y: gate[2] }],
        },
        { data: cloud.map((b) => ({ x: b[0], y: b[1], r: b[2] })), backgroundColor: cloud.map((b) => `rgba(0,0,0,${b[3]})`), borderWidth: 0 },
      ],
    },
    options: {
      ...baseOptions(c, p),
      scales: {
        x: { type: 'linear', min: 0, max: p.r - p.l, afterBuildTicks: setTicks(G_DENS_TICKS), afterFit: fixAxis(4), ticks: { display: false }, grid: tickGrid(3, 1), border: { color: '#222', width: 1 } },
        y: { type: 'linear', min: 0, max: p.b - p.t, afterBuildTicks: setTicks(G_DENS_TICKS), afterFit: fixAxis(4), ticks: { display: false }, grid: tickGrid(3, 1), border: { color: '#222', width: 1 } },
      },
    },
    plugins: [blurPlugin(2.4, 1), framePlugin('#c8c8c8', 'tr', 1)],
  };
}
const GB_CANVAS: Rect = { l: 600, t: 760, r: 754, b: 900 };
const GB_PLOT: Rect = { l: 657, t: 769, r: 754, b: 848 };
const GB_XMIN = 0.545, GB_XMAX = 3.485;
function configGBar() {
  const g = [1, 2, 3];
  const wx = g.map((v) => v - 0.19), kx = g.map((v) => v + 0.19);
  const blk = '#000';
  return {
    type: 'bar',
    data: {
      datasets: [
        { type: 'bar', data: wx.map((x, i) => ({ x, y: G_WT_MEAN[i] })), backgroundColor: blk, barThickness: 9.5, grouped: false, borderWidth: 0 },
        { type: 'bar', data: kx.map((x, i) => ({ x, y: G_KO_MEAN[i] })), backgroundColor: '#fff', borderColor: blk, borderWidth: 1.5, barThickness: 9.5, grouped: false },
        { type: 'bar', data: wx.map((x, i) => ({ x, y: [G_WT_MEAN[i], G_WT_MEAN[i] + G_WT_SEM[i]] })), backgroundColor: blk, barThickness: 1.5, grouped: false, borderWidth: 0 },
        { type: 'bar', data: kx.map((x, i) => ({ x, y: [G_KO_MEAN[i], G_KO_MEAN[i] + G_KO_SEM[i]] })), backgroundColor: blk, barThickness: 1.5, grouped: false, borderWidth: 0 },
        { type: 'scatter', data: wx.map((x, i) => ({ x, y: G_WT_MEAN[i] + G_WT_SEM[i] })), pointStyle: 'line', pointRadius: 3.5, pointBorderColor: blk, pointBorderWidth: 1.5 },
        { type: 'scatter', data: kx.map((x, i) => ({ x, y: G_KO_MEAN[i] + G_KO_SEM[i] })), pointStyle: 'line', pointRadius: 3.5, pointBorderColor: blk, pointBorderWidth: 1.5 },
        ...G_SIG.map((s) => ({ type: 'line', data: [{ x: s[0], y: s[2] }, { x: s[1], y: s[2] }], borderColor: '#333', borderWidth: 1, pointRadius: 0, clip: false })),
      ],
    },
    options: {
      ...baseOptions(GB_CANVAS, GB_PLOT),
      scales: {
        x: {
          type: 'linear', min: GB_XMIN, max: GB_XMAX, afterBuildTicks: setTicks(g), afterFit: fixAxis(GB_CANVAS.b - GB_PLOT.b),
          ticks: { autoSkip: false, minRotation: 30, maxRotation: 30, padding: 0, font: { size: 12 }, color: '#000', callback: (v: number) => G_GROUPS[v - 1] ?? '' },
          grid: tickGrid(4, 1.5), border: { color: '#000', width: 2 },
        },
        y: {
          type: 'linear', min: 0, max: 100, afterBuildTicks: setTicks([0, 20, 40, 60, 80, 100]), afterFit: fixAxis(GB_PLOT.l - GB_CANVAS.l),
          ticks: { autoSkip: false, padding: 2, font: { size: 10.5, weight: 'bold' }, color: '#000' }, grid: tickGrid(4, 1.5), border: { color: '#000', width: 2 },
        },
      },
    },
  };
}

/* =================== LEGEND PIECES =================== */
function ColorBar({ l, t, w, h, css, ticksY }: { l: number; t: number; w: number; h: number; css: string; ticksY: number[] }) {
  return (
    <div style={{ position: 'absolute', left: l, top: t, width: w, height: h, background: css }}>
      {ticksY.map((y, i) => (
        <React.Fragment key={i}>
          <div style={{ position: 'absolute', left: 0, top: y - t - 0.5, width: w * 0.2, height: 1, background: '#fff' }} />
          <div style={{ position: 'absolute', right: 0, top: y - t - 0.5, width: w * 0.2, height: 1, background: '#fff' }} />
        </React.Fragment>
      ))}
    </div>
  );
}
const Dot = ({ x, y, r, c = '#000' }: { x: number; y: number; r: number; c?: string }) => (
  <div style={{ position: 'absolute', left: x - r, top: y - r, width: 2 * r, height: 2 * r, borderRadius: '50%', background: c }} />
);
const Atop = ({ top, bottom }: { top: React.ReactNode; bottom: React.ReactNode }) => (
  <span style={{ display: 'inline-flex', flexDirection: 'column', alignItems: 'center' }}><span>{top}</span><span>{bottom}</span></span>
);
const FLabel = ({ left, right }: { left: React.ReactNode; right: React.ReactNode }) => (
  <span style={{ display: 'flex', alignItems: 'flex-end' }}>
    <Atop top="S1–S2" bottom={left} />
    <span>_vs_</span>
    <Atop top="S1–S2" bottom={right} />
  </span>
);

/* =================== APP =================== */
export default function App() {
  // A geometry (same mapping as the chart scales)
  const aPx = (u: number) => A_PLOT.l + ((u - A_XMIN) / (A_XMAX - A_XMIN)) * (A_PLOT.r - A_PLOT.l);
  const aPy = (u: number) => A_PLOT.t + ((u - A_YMIN) / (A_YMAX - A_YMIN)) * (A_PLOT.b - A_PLOT.t);
  const aBarTop = 87, aBarBot = 173, aTop = -1.9, aBot = -5.5;
  const aY = (v: number) => aBarTop + ((aTop - v) / (aTop - aBot)) * (aBarBot - aBarTop);
  const aKeyY = [232, 244, 262, 285, 312, 342];
  // E legend geometry
  const eY = (v: number) => 580 - v * 17.3;
  // F legend geometry
  const fY = (v: number) => 776.5 - v * 16.75;
  const fKeyY = [864, 900, 933];
  const cPx = (u: number) => C_PLOT.l + ((u - C_XMIN) / (C_XMAX - C_XMIN)) * (C_PLOT.r - C_PLOT.l);
  const cPy = (v: number) => C_PLOT.t + ((C_UP_MAX - v) / (C_UP_MAX - C_UP_MIN)) * 31.5;
  const gPx = (u: number) => GB_PLOT.l + ((u - GB_XMIN) / (GB_XMAX - GB_XMIN)) * (GB_PLOT.r - GB_PLOT.l);
  const gPy = (v: number) => GB_PLOT.b - (v / 100) * (GB_PLOT.b - GB_PLOT.t);
  const eColsL = [351.7, 383, 414.3], eColsR = [449.8, 481.5, 513.2];
  const eLabels = [<>WT</>, <>Mst1<FL /></>, <>Mst1<FL />Mst2<FL /></>];
  const fCols = [114, 153.3, 192.7];
  const fLabels = [
    <FLabel left={<>Mst1<FL />Mst2<FL /></>} right={<>Mst1<FL /></>} />,
    <FLabel left={<>Mst1<FL />Mst2<FL /></>} right={<>WT</>} />,
    <FLabel left={<>Mst1<FL /></>} right={<>WT</>} />,
  ];
  const gNumPos = [[368, 766], [452, 766], [538, 766], [372, 849], [455, 849], [543, 849]];
  const gNums = [...G_WT_GATE_PCT, ...G_KO_GATE_PCT];

  return (
    <div style={{ position: 'absolute', left: 0, top: 0, width: 754, height: 962, background: '#fff', fontFamily: FONT, overflow: 'hidden', color: '#000' }}>
      {/* charts */}
      <ChartBox canvas={A_CANVAS} make={configA} />
      <ChartBox canvas={HB1_CANVAS} make={() => configHist(HB1_CANVAS, HB1_PLOT, [[H_MITO_GREEN_X, H_MITO_GREEN_Y, B_COLORS[2]], [H_MITO_RED_X, H_MITO_RED_Y, B_COLORS[1]], [H_MITO_BLUE_X, H_MITO_BLUE_Y, B_COLORS[0]]])} />
      <ChartBox canvas={HB2_CANVAS} make={() => configHist(HB2_CANVAS, HB2_PLOT, [[H_ROX_GREEN_X, H_ROX_GREEN_Y, B_COLORS[2]], [H_ROX_RED_X, H_ROX_RED_Y, B_COLORS[1]], [H_ROX_BLUE_X, H_ROX_BLUE_Y, B_COLORS[0]]])} />
      <ChartBox canvas={HB3_CANVAS} make={() => configHist(HB3_CANVAS, HB3_PLOT, [[H_MYC_GREEN_X, H_MYC_GREEN_Y, B_COLORS[2]], [H_MYC_RED_X, H_MYC_RED_Y, B_COLORS[1]], [H_MYC_BLUE_X, H_MYC_BLUE_Y, B_COLORS[0]]])} />
      <ChartBox canvas={HC_CANVAS} make={() => configHist(HC_CANVAS, HC_PLOT, [[H_PS6_GREEN_X, H_PS6_GREEN_Y, B_COLORS[2]], [H_PS6_RED_X, H_PS6_RED_Y, B_COLORS[1]], [H_PS6_BLUE_X, H_PS6_BLUE_Y, B_COLORS[0]]])} />
      <ChartBox canvas={BB1_CANVAS} make={() => configBar3(BB1_CANVAS, BB1_PLOT, B_MITO_MEAN, B_MITO_SEM, B_MITO_TICKS, B_MITO_SIG)} />
      <ChartBox canvas={BB2_CANVAS} make={() => configBar3(BB2_CANVAS, BB2_PLOT, B_CELLROX_MEAN, B_CELLROX_SEM, B_SMALL_TICKS, B_CELLROX_SIG)} />
      <ChartBox canvas={BB3_CANVAS} make={() => configBar3(BB3_CANVAS, BB3_PLOT, B_CMYC_MEAN, B_CMYC_SEM, B_SMALL_TICKS, B_CMYC_SIG)} />
      <ChartBox canvas={C_CANVAS} make={configC} />
      <ChartBox canvas={D_CANVAS} make={configD} />
      <ChartBox canvas={E_LEFT_CANVAS} make={() => configHeat(E_LEFT_CANVAS, [E_POS_WT, E_POS_MST1, E_POS_MST12])} />
      <ChartBox canvas={E_RIGHT_CANVAS} make={() => configHeat(E_RIGHT_CANVAS, [E_NEG_WT, E_NEG_MST1, E_NEG_MST12])} />
      <ChartBox canvas={F_CANVAS} make={configF} />
      {G_PLOTS.map((p, i) => <ChartBox key={i} canvas={gCanvas(p)} make={() => configDensity(i)} />)}
      <ChartBox canvas={GB_CANVAS} make={configGBar} />

      {/* ---------- Panel letters ---------- */}
      <Txt x={0} y={8} s={17}>A</Txt>
      <Txt x={452} y={8} s={17}>B</Txt>
      <Txt x={453} y={337} s={17}>C</Txt>
      <Txt x={0} y={479} s={17}>D</Txt>
      <Txt x={314} y={481} s={17}>E</Txt>
      <Txt x={0} y={724} s={17}>F</Txt>
      <Txt x={296} y={724} s={17}>G</Txt>

      {/* ---------- Panel A axis labels ---------- */}
      {A_PATHWAYS.map((p, i) => <Txt key={'ap' + i} x={265} y={aPy(i + 1)} a="r" s={7.4} c="#333">{p}</Txt>)}
      {A_COMPARISONS.map((cmp, i) => <RotLabel key={'ac' + i} x={aPx(i + 1) + 6} y={405} s={12} c="#333">{cmp}</RotLabel>)}

      {/* ---------- Panel A legends ---------- */}
      <Txt x={381} y={67} a="c" s={12}>NES</Txt>
      <ColorBar l={361} t={aBarTop} w={17} h={aBarBot - aBarTop} css={gradCss(A_STOPS, aTop, aBot)} ticksY={A_NES_TICKS.map(aY)} />
      {A_NES_TICKS.map((v) => <Txt key={v} x={382} y={aY(v)} s={11.5}>{v}</Txt>)}
      <Txt x={355} y={215} s={11.5}>-log<Sub>10</Sub> (BH_FDR)</Txt>
      {A_SIZE_BREAKS.map((v, i) => <Dot key={v} x={371} y={aKeyY[i]} r={aRadius(v)} />)}
      {A_SIZE_BREAKS.map((v, i) => <Txt key={'l' + v} x={391} y={aKeyY[i]} s={11.5}>{v.toFixed(1)}</Txt>)}

      {/* ---------- Panel B/C histogram labels ---------- */}
      {[[B_MITO_MFI, 498, [20, 33, 46.5]], [B_CELLROX_MFI, 492.5, [127.5, 141.5, 156]], [B_CMYC_MFI, 495, [241, 255, 269]], [C_PS6_MFI, 491.5, [358, 372.5, 386.5]]].map((row: any, k) =>
        row[0].map((t: string, i: number) => <Txt key={k + '-' + i} x={row[1]} y={row[2][i]} s={12.5} c={B_TEXT_COLORS[i]}>{t}</Txt>))}
      <VArrow x={475} y1={5} y2={38} />
      <Txt x={475} y={61} a="c" rot={-90} s={12.5}>% Max</Txt>
      <VArrow x={475} y1={117} y2={150} />
      <Txt x={475} y={176} a="c" rot={-90} s={12.5}>% Max</Txt>
      <VArrow x={475} y1={229} y2={262} />
      <Txt x={475} y={283} a="c" rot={-90} s={12.5}>% Max</Txt>
      <VArrow x={475} y1={346} y2={378} />
      <Txt x={475} y={401} a="c" rot={-90} s={12.5}>% Max</Txt>
      <Txt x={482} y={97} s={12}>MitoTracker-Deep Red</Txt>
      <Txt x={482} y={209} s={12}>CellROX-Deep Red</Txt>
      <Txt x={488} y={321} s={12}>c-Myc-PB</Txt>
      <HArrow y={321} x1={538} x2={572} />
      <Txt x={485} y={437} s={12}>pS6-APC</Txt>
      <HArrow y={437} x1={538} x2={572} />

      {/* bar titles */}
      <Txt x={588} y={49} a="c" rot={-90} s={12} lh={0.95}>Mitotracker<br />MFI</Txt>
      <Txt x={588} y={159} a="c" rot={-90} s={12} lh={0.95}>CellROX<br />MFI</Txt>
      <Txt x={588} y={272} a="c" rot={-90} s={12} lh={0.95}>cMyc<br />MFI</Txt>
      <Txt x={587} y={388} a="c" rot={-90} s={12}>pS6 MFI</Txt>
      {sigTexts(BB1_PLOT, B_XMIN, B_XMAX, 8000, B_MITO_SIG)}
      {sigTexts(BB2_PLOT, B_XMIN, B_XMAX, 2500, B_CELLROX_SIG)}
      {sigTexts(BB3_PLOT, B_XMIN, B_XMAX, 2500, B_CMYC_SIG)}
      {C_SIG.map((s, i) => <Txt key={'cs' + i} x={(cPx(s[0] + 0.23) + cPx(s[1] + 0.23)) / 2} y={cPy(s[2]) - 4.5} a="c" s={10} w="bold">{s[3]}</Txt>)}
      {B_GROUPS.map((gname, i) => <Txt key={'bl' + i} x={713} y={13 + i * 13.5} s={13} c={B_TEXT_COLORS[i]}>{gname}</Txt>)}
      {B_GROUPS.map((gname, i) => <Txt key={'cl' + i} x={713} y={342 + i * 12.5} s={13} c={B_TEXT_COLORS[i]}>{gname}</Txt>)}

      {/* ---------- Panel D ---------- */}
      <Txt x={170} y={502} a="c" s={12}>Mst1<FL />Mst2<FL /> S1–S2_vs_Mst1<FL /> S1–S2</Txt>
      <Txt x={12.5} y={566} a="c" rot={-90} s={12}>z-score</Txt>

      {/* ---------- Panel E ---------- */}
      <Txt x={385} y={486} a="c" s={12} lh={1.1}>PLZF positively<br />regulated genes</Txt>
      <Txt x={480} y={486} a="c" s={12} lh={1.1}>PLZF negatively<br />regulated genes</Txt>
      {eColsL.map((cx, i) => <RotLabel key={'el' + i} x={cx + 5} y={646} s={12}>{eLabels[i]}</RotLabel>)}
      {eColsR.map((cx, i) => <RotLabel key={'er' + i} x={cx + 5} y={646} s={12}>{eLabels[i]}</RotLabel>)}
      <Txt x={540} y={530} s={12}>z-score</Txt>
      <ColorBar l={539} t={544} w={16} h={72} css={gradCss(E_STOPS, 2.08, -2.08)} ticksY={E_TICKS.map(eY)} />
      {E_TICKS.map((v) => <Txt key={'et' + v} x={559} y={eY(v)} s={12}>{v}</Txt>)}

      {/* ---------- Panel F ---------- */}
      <Txt x={82} y={760} a="r" s={11.5} lh={1.25}>PLZF<br />down-regulated</Txt>
      <Txt x={82} y={812} a="r" s={11.5} lh={1.25}>PLZF<br />up-regulated</Txt>
      {fCols.map((cx, i) => <RotLabel key={'fl' + i} x={cx + 9} y={855} s={11.5}>{fLabels[i]}</RotLabel>)}
      <Txt x={236} y={722} a="c" s={12}>NES</Txt>
      <ColorBar l={228} t={735} w={19} h={77} css={gradCss(F_STOPS, 2.48, -2.1)} ticksY={F_NES_TICKS.map(fY)} />
      {F_NES_TICKS.map((v) => <Txt key={'ft' + v} x={251} y={fY(v)} s={12}>{v}</Txt>)}
      <Txt x={224} y={840} s={11.5}>-log<Sub>10</Sub></Txt>
      <Txt x={224} y={852} s={11.5}>(BH_FDR)</Txt>
      {F_SIZE_BREAKS.map((v, i) => <Dot key={'fd' + v} x={240} y={fKeyY[i]} r={fRadius(v)} />)}
      {F_SIZE_BREAKS.map((v, i) => <Txt key={'fs' + v} x={262} y={fKeyY[i]} s={12}>{v}</Txt>)}

      {/* ---------- Panel G ---------- */}
      {G_GROUPS.map((gname, i) => <Txt key={'gt' + i} x={[402, 484, 571][i]} y={731} a="c" s={12.5}>{gname}</Txt>)}
      {gNums.map((t, i) => <Txt key={'gn' + i} x={gNumPos[i][0]} y={gNumPos[i][1]} s={12.5}>{t}</Txt>)}
      <Txt x={329} y={782} a="r" s={12.5}>WT</Txt>
      <Txt x={325} y={860} a="c" s={12.5}><i>Cd4</i><Sup>Cre</Sup></Txt>
      <Txt x={324} y={874} a="c" s={12.5}>Mst1<FL /></Txt>
      <VArrow x={345} y1={743} y2={855} />
      <Txt x={345} y={882} a="c" rot={-90} s={12.5}>Ki67-APC</Txt>
      <Txt x={355} y={896} a="c" s={10}>0</Txt>
      <Txt x={370} y={912} a="c" s={10}>0</Txt>
      <Txt x={357} y={922} s={12.5}>CD1d-PBS57-PE</Txt>
      <HArrow y={922} x1={458} x2={612} />
      <Txt x={625} y={810} a="c" rot={-90} s={12}>Ki67<Sup>+</Sup> cells (%)</Txt>
      {G_SIG.map((s, i) => <Txt key={'gs' + i} x={(gPx(s[0]) + gPx(s[1])) / 2} y={gPy(s[2]) - (s[3] === 'NS' ? 7 : 5)} a="c" s={s[3] === 'NS' ? 10 : 11}>{s[3]}</Txt>)}
      <div style={{ position: 'absolute', left: 655, top: 728, width: 6, height: 6, background: '#000' }} />
      <Txt x={666} y={731} s={13}>WT</Txt>
      <div style={{ position: 'absolute', left: 655, top: 743, width: 4, height: 4, border: '1.2px solid #000', background: '#fff' }} />
      <Txt x={666} y={746} s={13}><i>Cd4</i><Sup>Cre</Sup>Mst1<FL /></Txt>
    </div>
  );
}
